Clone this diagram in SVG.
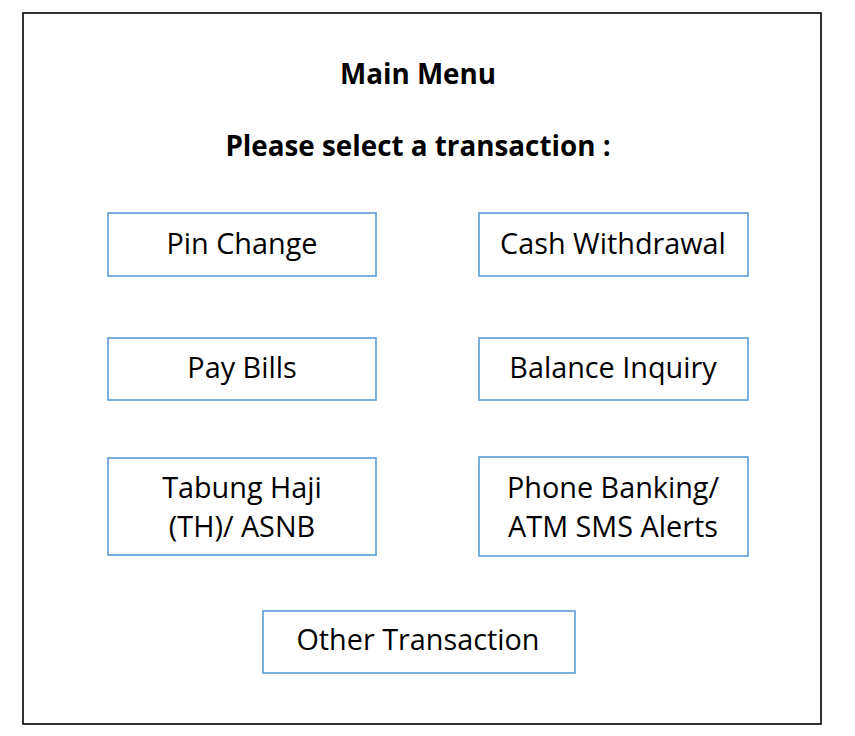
<svg xmlns="http://www.w3.org/2000/svg" width="855" height="736" viewBox="0 0 855 736">
<style>
.frame{fill:#fff;stroke:#000;stroke-width:1.6}
.btn{fill:#fff;stroke:#5B9BD5;stroke-width:1.6}
.t{font-family:"Open Sans","Noto Sans","Liberation Sans",sans-serif;font-size:28.8px;fill:#000;text-anchor:middle}
.h{font-family:"Open Sans","Noto Sans","Liberation Sans",sans-serif;font-size:27.8px;font-weight:bold;fill:#000;text-anchor:middle}
</style>
<rect width="855" height="736" fill="#fff"/>
<g id="screen">
<rect class="frame" x="23" y="13" width="798" height="711"/>
<text class="h" x="418" y="84">Main Menu</text>
<text class="h" x="418" y="156">Please select a transaction :</text>
</g>
<g id="pin-change"><rect class="btn" x="108" y="213" width="268" height="63"/><text class="t" x="242" y="254">Pin Change</text></g>
<g id="cash-withdrawal"><rect class="btn" x="479" y="213" width="269" height="63"/><text class="t" x="613" y="254">Cash Withdrawal</text></g>
<g id="pay-bills"><rect class="btn" x="108" y="338" width="268" height="62"/><text class="t" x="242" y="378">Pay Bills</text></g>
<g id="balance-inquiry"><rect class="btn" x="479" y="338" width="269" height="62"/><text class="t" x="613" y="378">Balance Inquiry</text></g>
<g id="tabung-haji"><rect class="btn" x="108" y="458" width="268" height="97"/><text class="t" x="242" y="498">Tabung Haji</text><text class="t" x="242" y="537">(TH)/ ASNB</text></g>
<g id="phone-banking"><rect class="btn" x="479" y="457" width="269" height="99"/><text class="t" x="613" y="498">Phone Banking/</text><text class="t" x="613" y="537">ATM SMS Alerts</text></g>
<g id="other-transaction"><rect class="btn" x="263" y="611" width="312" height="62"/><text class="t" x="418" y="650">Other Transaction</text></g>
<g id="connectors"/>
</svg>
